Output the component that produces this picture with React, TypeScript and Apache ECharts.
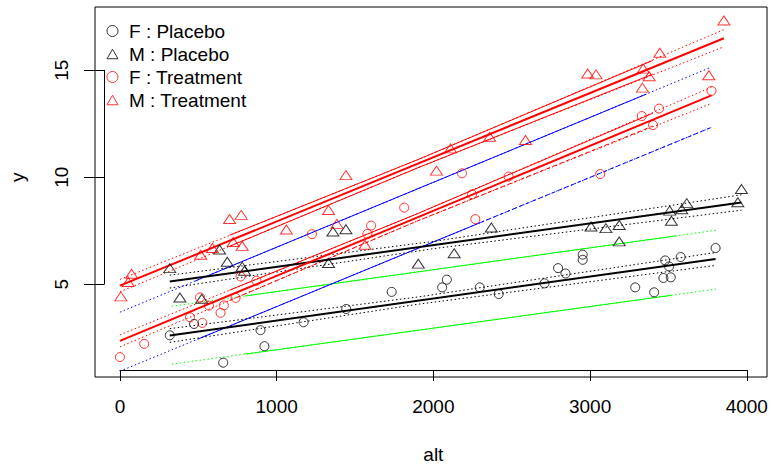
import React, { useEffect, useRef } from "react";
import * as echarts from "echarts";

// ---- axes ----
const xTicks = [0, 1000, 2000, 3000, 4000];
const yTicks = [5, 10, 15];
const xRange = [-159, 4129];
const yRange = [0.66, 17.96];

// ---- points: [alt, y] ----
const fPlacebo = [
  [318, 2.61], [473, 3.14], [659, 1.33], [897, 2.85], [922, 2.1], [1172, 3.22],
  [1444, 3.84], [1734, 4.64], [2056, 4.85], [2086, 5.21], [2296, 4.85], [2417, 4.54],
  [2709, 5.04], [2796, 5.75], [2843, 5.5], [2953, 6.38], [2953, 6.14], [3288, 4.85],
  [3409, 4.62], [3468, 5.29], [3515, 5.32], [3479, 6.11], [3504, 5.83], [3578, 6.27],
  [3801, 6.69],
];
const mPlacebo = [
  [318, 5.75], [383, 4.38], [522, 4.32], [636, 6.62], [685, 6.05], [780, 5.82],
  [795, 5.63], [1331, 5.99], [1359, 7.46], [1442, 7.57], [1904, 5.96], [2133, 6.45],
  [2370, 7.65], [3006, 7.7], [3101, 7.62], [3186, 7.77], [3186, 7.0], [3508, 8.44],
  [3519, 7.97], [3585, 8.5], [3617, 8.79], [3943, 8.83], [3966, 9.45],
];
const fTreatment = [
  [0, 1.59], [155, 2.21], [447, 3.45], [526, 3.19], [511, 4.38], [568, 4.0],
  [663, 4.01], [642, 3.66], [738, 4.36], [770, 5.36], [871, 5.16], [1225, 7.34],
  [1579, 7.35], [1603, 7.74], [1814, 8.58], [2183, 10.18], [2247, 9.2], [2268, 8.04],
  [2480, 10.03], [3065, 10.15], [3330, 12.86], [3402, 12.44], [3440, 13.21], [3775, 14.04],
];
const mTreatment = [
  [6, 4.43], [53, 5.1], [74, 5.49], [515, 6.38], [590, 6.69], [700, 8.05],
  [723, 6.97], [774, 8.24], [780, 6.79], [1062, 7.56], [1331, 8.47], [1384, 7.82],
  [1442, 10.1], [1564, 6.84], [2020, 10.31], [2110, 11.35], [2359, 11.89], [2588, 11.74],
  [2985, 14.85], [3038, 14.81], [3334, 14.19], [3339, 15.08], [3377, 14.72], [3445, 15.82],
  [3758, 14.77], [3854, 17.33],
];

// ---- fitted lines and bands ----
const fPlaceboFit = [[318, 2.6], [3801, 6.18]];
const fPlaceboUp = [[318, 2.92], [1900, 4.4], [3801, 6.48]];
const fPlaceboLo = [[318, 2.28], [1900, 4.06], [3801, 5.88]];

const mPlaceboFit = [[318, 5.12], [3966, 8.82]];
const mPlaceboUp = [[318, 5.42], [2000, 7.0], [3966, 9.18]];
const mPlaceboLo = [[318, 4.82], [2000, 6.66], [3966, 8.46]];

const fTreatFit = [[0, 2.35], [3775, 13.83]];
const fTreatUp = [[0, 2.63], [1900, 8.3], [3775, 14.21]];
const fTreatUpMid = [[700, 4.72], [1900, 8.3], [3400, 12.99]];
const fTreatLo = [[0, 2.07], [1900, 7.96], [3775, 13.45]];
const fTreatLoMid = [[700, 4.24], [1900, 7.96], [3400, 12.39]];

const mTreatFit = [[0, 4.93], [3854, 16.5]];
const mTreatUp = [[0, 5.22], [1900, 10.82], [3854, 16.9]];
const mTreatUpMid = [[700, 7.29], [1900, 10.82], [3400, 15.46]];
const mTreatLo = [[0, 4.64], [1900, 10.44], [3854, 16.1]];
const mTreatLoMid = [[700, 6.77], [1900, 10.44], [3400, 14.82]];

const blueUp = [[0, 3.69], [3771, 15.14]];
const blueUpMid = [[480, 5.15], [3360, 13.89]];
const blueLo = [[0, 0.93], [3777, 12.34]];
const blueLoMid = [[500, 2.44], [2300, 7.88]];
const blueLoEnd = [[2300, 7.88], [3777, 12.34]];

const greenUp = [[331, 3.97], [3803, 7.52]];
const greenUpMid = [[800, 4.45], [3550, 7.26]];
const greenLo = [[331, 1.26], [3803, 4.77]];
const greenLoMid = [[800, 1.73], [3520, 4.48]];

const legendNames = ["F : Placebo", "M : Placebo", "F : Treatment", "M : Treatment"];

const RED = "#FF0000";
const BLACK = "#000000";
const BLUE = "#0000FF";
const GREEN = "#00FF00";
const FONT = "'Liberation Sans', Arial, Helvetica, sans-serif";
const TRI = "path://M5,0 L10,8.66 L0,8.66 Z";
const DOT = [1.5, 2.5];
const DASH = [4, 3];

// plot box in pixels
const W = 771, H = 469;
const BOX = { left: 95, right: 767, top: 7, bottom: 377 };
const TICK = 11;

function line(data: number[][], color: string, width: number, type: any, z = 2) {
  return {
    type: "line",
    xAxisIndex: 0,
    yAxisIndex: 0,
    data,
    symbol: "none",
    showSymbol: false,
    silent: true,
    z,
    lineStyle: { color, width, type },
  };
}

function pts(name: string, data: number[][], color: string, symbol: string, size: any) {
  return {
    type: "scatter",
    name,
    xAxisIndex: 0,
    yAxisIndex: 0,
    data,
    symbol,
    symbolSize: size,
    symbolKeepAspect: true,
    silent: true,
    z: 4,
    itemStyle: { color: "rgba(0,0,0,0)", borderColor: color, borderWidth: 1 },
  };
}

const hiddenAxis = (gridIndex: number) => ({
  type: "value", gridIndex, min: 0, max: 1, show: false,
});

export default function App() {
  const ref = useRef<HTMLDivElement>(null);
  useEffect(() => {
    if (!ref.current) return;
    const chart = echarts.init(ref.current, null, { renderer: "svg" });

    // helper grids span exactly the tick ranges, so their axes carry R-style ticks
    const bw = BOX.right - BOX.left;
    const bh = BOX.bottom - BOX.top;
    const px = (v: number) => BOX.left + ((v - xRange[0]) / (xRange[1] - xRange[0])) * bw;
    const py = (v: number) => BOX.top + ((yRange[1] - v) / (yRange[1] - yRange[0])) * bh;
    const x0 = px(xTicks[0]);
    const x1 = px(xTicks[xTicks.length - 1]);
    const y1 = py(yTicks[yTicks.length - 1]);
    const y0 = py(yTicks[0]);

    chart.setOption({
      animation: false,
      backgroundColor: "#ffffff",
      textStyle: { fontFamily: FONT },
      grid: [
        {
          left: BOX.left, right: W - BOX.right, top: BOX.top, bottom: H - BOX.bottom,
          show: true, borderColor: "#000", borderWidth: 1, backgroundColor: "transparent",
        },
        { left: x0, right: W - x1, top: BOX.top, bottom: H - BOX.bottom, show: false },
        { left: BOX.left, right: W - BOX.right, top: y1, bottom: H - y0, show: false },
      ],
      legend: {
        orient: "vertical",
        left: 106.5,
        top: 21.5,
        padding: 0,
        itemWidth: 11,
        itemHeight: 11,
        itemGap: 4,
        data: legendNames,
        itemStyle: { borderWidth: 1 },
        textStyle: { fontSize: 19, color: "#000", fontFamily: FONT, padding: [0, 0, 0, 6] },
        selectedMode: false,
      },
      xAxis: [
        { type: "value", gridIndex: 0, min: xRange[0], max: xRange[1], show: false },
        {
          type: "value", gridIndex: 1, position: "bottom",
          min: xTicks[0], max: xTicks[xTicks.length - 1], interval: 1000,
          splitLine: { show: false },
          axisLine: { show: true, onZero: false, lineStyle: { color: "#000", width: 1 } },
          axisTick: { show: true, inside: false, length: TICK, lineStyle: { color: "#000" } },
          axisLabel: {
            fontSize: 19, color: "#000", margin: 27, fontFamily: FONT,
            formatter: (v: number) => String(v),
          },
          name: "alt",
          nameLocation: "middle",
          nameGap: 75,
          nameTextStyle: { fontSize: 19, color: "#000", fontFamily: FONT },
        },
        hiddenAxis(2),
      ],
      yAxis: [
        { type: "value", gridIndex: 0, min: yRange[0], max: yRange[1], show: false },
        {
          type: "value", gridIndex: 2, position: "left",
          min: yTicks[0], max: yTicks[yTicks.length - 1], interval: 5,
          splitLine: { show: false },
          axisLine: { show: true, onZero: false, lineStyle: { color: "#000", width: 1 } },
          axisTick: { show: true, inside: false, length: TICK, lineStyle: { color: "#000", width: 1 } },
          axisLabel: {
            show: true, fontSize: 19, color: "#000", rotate: 90, margin: 33, fontFamily: FONT,
            formatter: (v: number) => String(v),
          },
          name: "y",
          nameLocation: "middle",
          nameGap: 77,
          nameTextStyle: { fontSize: 19, color: "#000", fontFamily: FONT },
        },
        hiddenAxis(1),
      ],
      // tick marks of the y axis, placed at the axis's tick values
      graphic: yTicks.map((v) => ({
        type: "line",
        silent: true,
        z: 100,
        shape: { x1: BOX.left - TICK, y1: Math.round(py(v)) + 0.5, x2: BOX.left, y2: Math.round(py(v)) + 0.5 },
        style: { stroke: "#000", lineWidth: 1 },
      })),
      series: [
        // green PI (F placebo)
        line(greenUp, GREEN, 1, DOT),
        line(greenUpMid, GREEN, 1, "solid"),
        line(greenLo, GREEN, 1, DOT),
        line(greenLoMid, GREEN, 1, "solid"),
        // blue PI (F treatment)
        line(blueUp, BLUE, 1, DOT),
        line(blueUpMid, BLUE, 1, "solid"),
        line(blueLo, BLUE, 1, DOT),
        line(blueLoMid, BLUE, 1, "solid"),
        line(blueLoEnd, BLUE, 1, DASH),
        // placebo fits
        line(fPlaceboUp, BLACK, 1, DOT),
        line(fPlaceboLo, BLACK, 1, DOT),
        line(fPlaceboFit, BLACK, 2, "solid", 3),
        line(mPlaceboUp, BLACK, 1, DOT),
        line(mPlaceboLo, BLACK, 1, DOT),
        line(mPlaceboFit, BLACK, 2, "solid", 3),
        // treatment fits
        line(fTreatUp, RED, 1, DOT),
        line(fTreatUpMid, RED, 1, "solid"),
        line(fTreatLo, RED, 1, DOT),
        line(fTreatLoMid, RED, 1, DASH),
        line(fTreatFit, RED, 2, "solid", 3),
        line(mTreatUp, RED, 1, DOT),
        line(mTreatUpMid, RED, 1, "solid"),
        line(mTreatLo, RED, 1, DOT),
        line(mTreatLoMid, RED, 1, "solid"),
        line(mTreatFit, RED, 2, "solid", 3),
        // points
        pts(legendNames[0], fPlacebo, BLACK, "circle", 9),
        pts(legendNames[1], mPlacebo, BLACK, TRI, [12, 10.4]),
        pts(legendNames[2], fTreatment, RED, "circle", 9),
        pts(legendNames[3], mTreatment, RED, TRI, [12, 10.4]),
      ],
    });
    return () => chart.dispose();
  }, []);
  return (
    <div
      ref={ref}
      style={{ position: "fixed", left: 0, top: 0, width: W, height: H, background: "#fff" }}
    />
  );
}
